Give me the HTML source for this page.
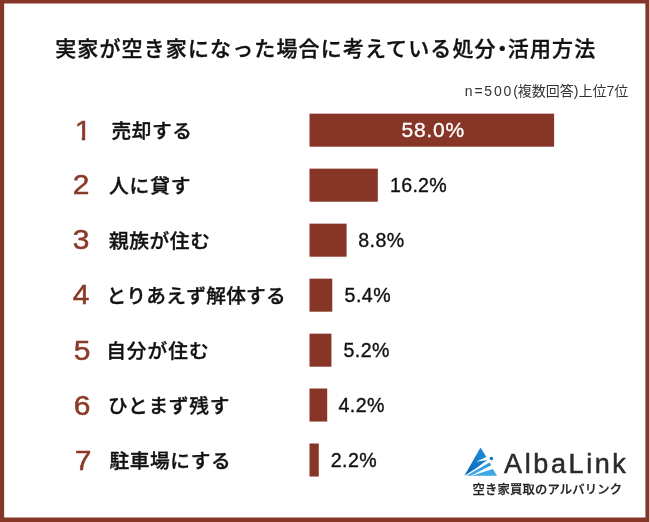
<!DOCTYPE html>
<html lang="ja">
<head>
<meta charset="utf-8">
<title>実家が空き家になった場合に考えている処分・活用方法</title>
<style>
html,body{margin:0;padding:0;background:#fff;}
body{width:650px;height:522px;position:relative;overflow:hidden;
  font-family:"Liberation Sans","Noto Sans CJK JP",sans-serif;color:#111;}
.frame{position:absolute;left:0;top:0;width:650px;height:522px;display:block;}
.t{position:absolute;white-space:nowrap;line-height:1;margin:0;}
.title{left:55.2px;top:38.4px;font-size:21px;font-weight:500;letter-spacing:1.13px;color:#111;-webkit-text-stroke:0.35px #111;}
.note{left:464.8px;top:83.7px;font-size:14px;font-weight:400;color:#333;}
.num{color:#8a3a29;font-size:28px;font-weight:400;width:30px;text-align:center;left:66.1px;-webkit-text-stroke:0.5px #8a3a29;transform:scaleX(1.07);}
.lab{font-size:19.7px;letter-spacing:0.6px;font-weight:500;-webkit-text-stroke:0.35px #111;left:109px;color:#111;}
.pct{font-size:19.6px;letter-spacing:0.45px;color:#111;width:100px;text-align:center;-webkit-text-stroke:0.35px #111;}
.logo{position:absolute;left:455px;top:440px;}
.brand{left:504.1px;top:450.7px;font-size:27px;letter-spacing:2.6px;color:#2b2b2b;-webkit-text-stroke:0.5px #2b2b2b;}
.sub{left:472.6px;top:483.5px;font-size:12.3px;font-weight:500;color:#222;-webkit-text-stroke:0.25px #222;letter-spacing:0.18px}
</style>
</head>
<body>
<svg class="frame" width="650" height="522" viewBox="0 0 650 522"><path fill="#873526" fill-rule="evenodd" d="M0 0H649.3V522H0Z M4.15 3.6V517.5H645.4V3.6Z"/><g fill="#873526"><rect x="309.5" y="113.65" width="244.60" height="33.05"/><rect x="309.5" y="168.65" width="68.32" height="33.05"/><rect x="309.5" y="223.65" width="37.11" height="33.05"/><rect x="309.5" y="278.65" width="22.77" height="33.05"/><rect x="309.5" y="333.65" width="21.93" height="33.05"/><rect x="309.5" y="388.50" width="17.71" height="33.05"/><rect x="309.5" y="443.50" width="9.28" height="33.05"/></g></svg>
<h1 class="t title">実家が空き家になった場合に考えている処分<span style="display:inline-block;width:11px;text-align:center;text-indent:-5px">・</span>活用方法</h1>
<div class="t note"><span style="letter-spacing:1.8px">n=500</span>(複数回答)上位7位</div>

<div class="t num" style="top:116.5px;left:67.9px;clip-path:polygon(0 0,30px 0,30px 20.6px,17.1px 20.6px,17.1px 28px,13.8px 28px,13.8px 20.6px,0 20.6px)">1</div>
<div class="t lab" style="top:121.9px;left:111.4px">売却する</div>
<div class="t pct" style="top:119px;left:383.2px;color:#fff;font-size:21px;letter-spacing:0.8px;-webkit-text-stroke-color:#fff">58.0%</div>

<div class="t num" style="top:171.2px">2</div>
<div class="t lab" style="top:176.9px;left:109px;letter-spacing:0.9px">人に貸す</div>
<div class="t pct" style="top:175.5px;left:368.5px;letter-spacing:0.25px">16.2%</div>

<div class="t num" style="top:226.2px">3</div>
<div class="t lab" style="top:231.9px">親族が住む</div>
<div class="t pct" style="top:230.5px;left:331.4px">8.8%</div>

<div class="t num" style="top:281.2px">4</div>
<div class="t lab" style="top:286.9px;left:106.4px;letter-spacing:0.27px">とりあえず解体する</div>
<div class="t pct" style="top:285.5px;left:317.85px">5.4%</div>

<div class="t num" style="top:337px;left:67.1px">5</div>
<div class="t lab" style="top:341.9px;left:106.2px;letter-spacing:1px">自分が住む</div>
<div class="t pct" style="top:340.5px;left:316.75px">5.2%</div>

<div class="t num" style="top:391.9px;left:67.1px">6</div>
<div class="t lab" style="top:396.9px;left:108px;letter-spacing:0.8px">ひとまず残す</div>
<div class="t pct" style="top:395.5px;left:311.7px">4.2%</div>

<div class="t num" style="top:447px;left:68px">7</div>
<div class="t lab" style="top:451.9px;left:109.4px;letter-spacing:0.6px">駐車場にする</div>
<div class="t pct" style="top:450.5px;left:304px">2.2%</div>

<svg class="logo" width="60" height="45" viewBox="455 440 60 45">
  <defs>
    <linearGradient id="g1" x1="0" y1="1" x2="1" y2="0">
      <stop offset="0" stop-color="#0a60b6"/><stop offset="1" stop-color="#1e92da"/>
    </linearGradient>
    <linearGradient id="g2" x1="0" y1="0" x2="0.35" y2="1">
      <stop offset="0" stop-color="#1a86d3"/><stop offset="1" stop-color="#48afe9"/>
    </linearGradient>
  </defs>
  <path d="M464.4 475.8L480.5 447.4L486.4 457.1L486.6 460.5Q476.5 468.6 464.4 475.8Z" fill="url(#g1)"/>
  <polygon points="486.9,456.8 476.2,461.7 486.9,459.9" fill="#fff"/>
  <polygon points="466.3,475.7 489.7,462.5 491.2,465.2 471.1,475.7" fill="url(#g2)"/>
  <polygon points="471.6,475.7 492.9,468.9 497,475.7" fill="#3da8e6"/>
  <circle cx="491.4" cy="458.4" r="1.75" fill="#0f72c8"/>
</svg>
<div class="t brand">AlbaLink</div>
<div class="t sub">空き家買取のアルバリンク</div>
</body>
</html>
